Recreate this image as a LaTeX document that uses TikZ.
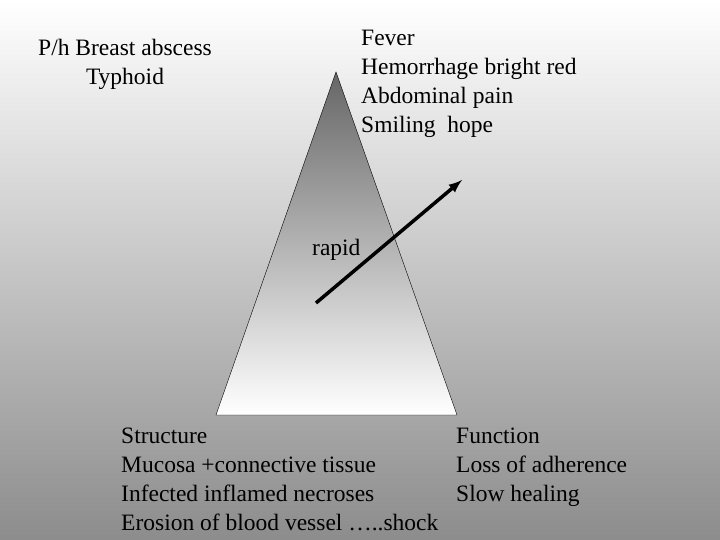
\documentclass[tikz,border=0pt]{standalone}
\usepackage{fontspec}
\setmainfont{Liberation Serif}
\begin{document}
\begin{tikzpicture}[x=1pt,y=1pt,
  txt/.style={font=\fontsize{23.5}{29}\selectfont,align=left,inner sep=0pt}]
\shade[top color=white,bottom color=black!45] (0,0) rectangle (720,540);
\useasboundingbox (0,0) rectangle (720,540);
\coordinate (apex) at (336,468);
\coordinate (bl) at (216,125);
\coordinate (br) at (457,125);
\shade[top color=black!60,bottom color=white,draw=black] (apex) -- (br) -- (bl) -- cycle;
\coordinate (as) at (316,237);
\coordinate (ae) at (462,360);
\draw[line width=3.5pt,-latex] (as) -- (ae);
\node[txt,anchor=north,align=center] (ph) at (125,501) {P/h Breast abscess\\Typhoid};
\node[txt,anchor=north west] (fv) at (361,510) {Fever\\Hemorrhage bright red\\Abdominal pain\\Smiling\ \ hope};
\node[txt,anchor=west] (rp) at (312,290) {rapid};
\node[txt,anchor=north west] (st) at (121,112) {Structure\\Mucosa +connective tissue\\Infected inflamed necroses\\Erosion of blood vessel …..shock};
\node[txt,anchor=north west] (fn) at (456,112) {Function\\Loss of adherence\\Slow healing};
\end{tikzpicture}
\end{document}
